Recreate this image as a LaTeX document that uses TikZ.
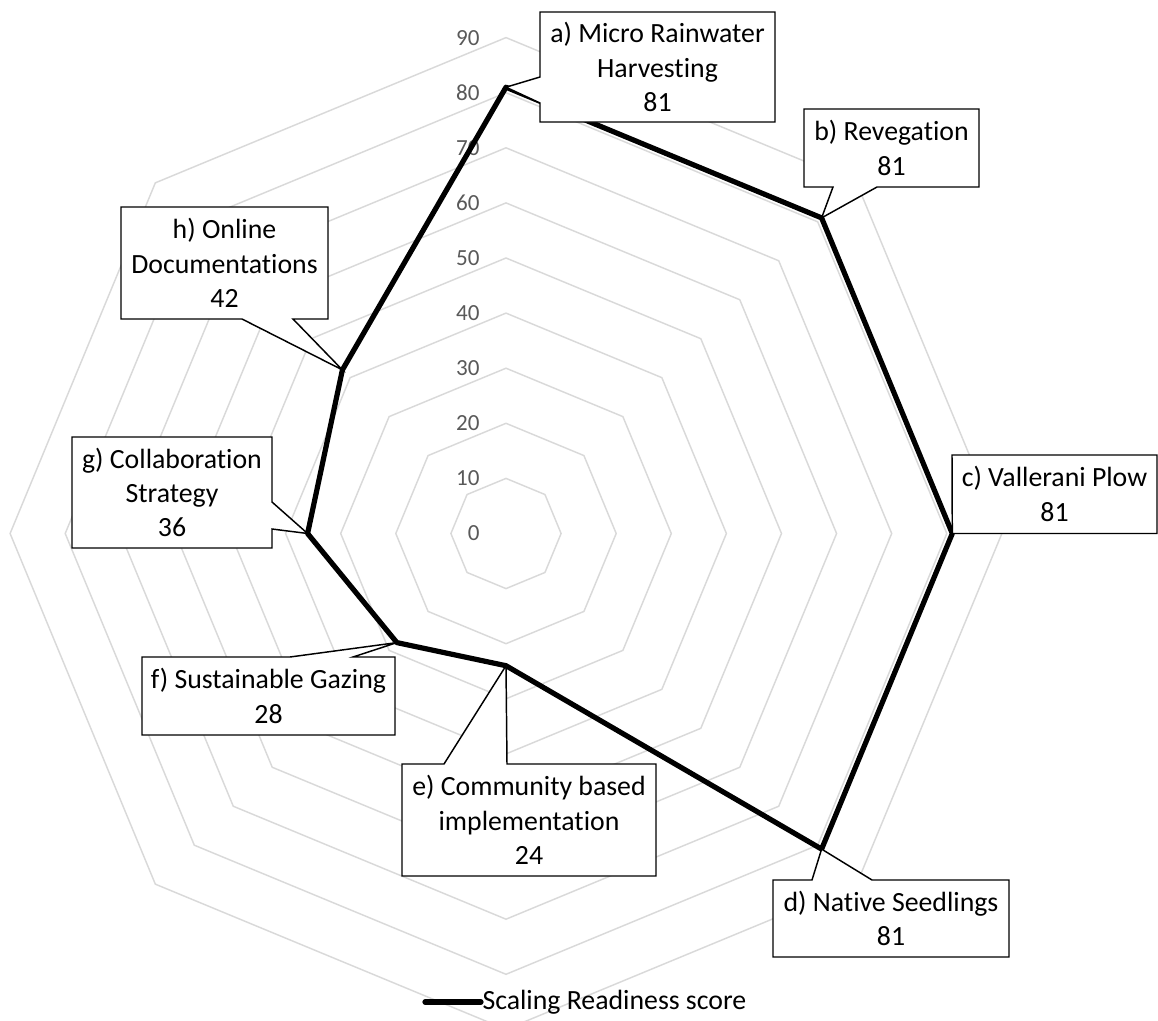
\documentclass[tikz,border=0pt]{standalone}
\usepackage{fontspec}
\setmainfont{Carlito}[Ligatures=NoCommon]

\tikzset{every picture/.style={line width=0.75pt}}
\definecolor{gridgray}{RGB}{217,217,217}
\definecolor{ticklabel}{RGB}{89,89,89}
\tikzset{
  gridline/.style={draw=gridgray, line width=1.1pt},
  dataline/.style={draw=black, line width=3.9pt, line join=round},
  callout/.style={draw=black, fill=white, line width=1.1pt, line join=miter},
  calltext/.style={align=center, inner sep=0.75pt, font=\fontsize{20.85}{25.8}\selectfont},
  ticktext/.style={anchor=east, inner sep=0.75pt, text=ticklabel, font=\fontsize{17.3}{20}\selectfont},
}

\begin{document}
\begin{tikzpicture}[x=0.75pt,y=0.75pt,yscale=-1,xscale=1]
\useasboundingbox (0,0) rectangle (1158,1021);
\clip (0,0) rectangle (1158,1021);

%Shape: Octagon grid 10 .. 90
\begin{scope}[shift={(506,533.5)}]
\foreach \k in {1,...,9}{
  \draw[gridline] (0:\k*55.1) \foreach \a in {45,90,...,315}{ -- (\a:\k*55.1)} -- cycle;
}
% Text Node
\foreach \k in {0,...,9}{
  \node[ticktext] (tick\k) at (-25,-\k*55.1) {\the\numexpr\k*10\relax};
}
\end{scope}

% data points
\coordinate (pa) at (506,87.2);
\coordinate (pb) at (821.6,217.9);
\coordinate (pc) at (952.3,533.5);
\coordinate (pd) at (821.6,849.1);
\coordinate (pe) at (506,665.7);
\coordinate (pf) at (396.9,642.6);
\coordinate (pg) at (307.6,533.5);
\coordinate (ph) at (342.4,369.9);

%Straight Lines: score polygon
\draw[dataline] (pa) -- (pb) -- (pc) -- (pd) -- (pe) -- (pf) -- (pg) -- (ph) -- cycle;

%Shape: Callouts
\draw[callout] (540,12) -- (775,12) -- (775,122) -- (540,122) -- (540,103) -- (pa) -- (540,77) -- cycle;
\draw[callout] (804,109) -- (979,109) -- (979,187) -- (877,187) -- (pb) -- (833,187) -- (804,187) -- cycle;
\draw[callout] (952,455) -- (1157,455) -- (1157,533.5) -- (985,533.5) -- (pc) -- cycle;
\draw[callout] (773,880) -- (812,880) -- (pd) -- (872,880) -- (1009,880) -- (1009,957) -- (773,957) -- cycle;
\draw[callout] (402,764) -- (444,764) -- (pe) -- (507,764) -- (656,764) -- (656,876) -- (402,876) -- cycle;
\draw[callout] (142,657) -- (290,657) -- (pf) -- (353,657) -- (395,657) -- (395,735) -- (142,735) -- cycle;
\draw[callout] (72,437) -- (272,437) -- (272,502) -- (pg) -- (272,529) -- (272,548) -- (72,548) -- cycle;
\draw[callout] (121,207) -- (328,207) -- (328,319) -- (293,319) -- (ph) -- (242,319) -- (121,319) -- cycle;

% Text Node
\node[calltext] (la) at (657.5,67) {a) Micro Rainwater\\Harvesting\\81};
% Text Node
\node[calltext] (lb) at (891.5,148) {b) Revegation\\81};
% Text Node
\node[calltext] (lc) at (1054.5,494) {c) Vallerani Plow\\81};
% Text Node
\node[calltext] (ld) at (891,918.5) {d) Native Seedlings\\81};
% Text Node
\node[calltext] (le) at (529,820) {e) Community based\\implementation\\24};
% Text Node
\node[calltext] (lf) at (268.5,696) {f) Sustainable Gazing\\28};
% Text Node
\node[calltext] (lg) at (172,492.5) {g) Collaboration\\Strategy\\36};
% Text Node
\node[calltext] (lh) at (224.5,263) {h) Online\\Documentations\\42};

%Legend
\coordinate (legstart) at (425,1002);
\node[calltext, anchor=west] (legtext) at (481,1002) {Scaling Readiness score};
\draw[dataline, line cap=round] (legstart) -- (legtext.west);

\end{tikzpicture}
\end{document}
